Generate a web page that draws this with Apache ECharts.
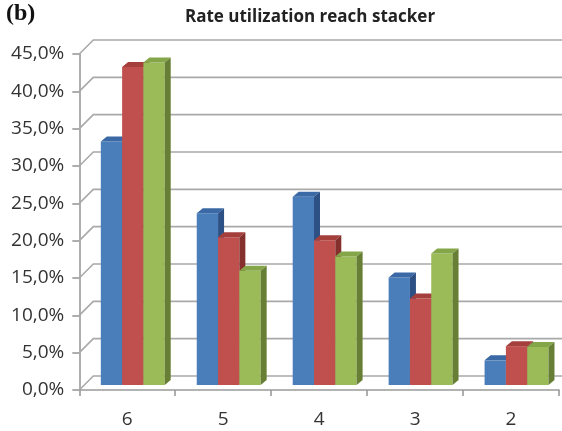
<!DOCTYPE html>
<html>
<head>
<meta charset="utf-8">
<script src="https://cdn.jsdelivr.net/npm/echarts@6/dist/echarts.min.js"></script>
<style>
  html, body { margin: 0; padding: 0; background: #fff; }
  #chart { width: 562px; height: 431px; }
</style>
</head>
<body>
<div id="chart"></div>
<script>
// Number of reach stackers (category axis)
const categories = ['6', '5', '4', '3', '2'];
// Utilization rate (%) for each scenario
const seriesBlue  = [32.6, 23.0, 25.2, 14.4, 3.3];
const seriesRed   = [42.6, 19.8, 19.4, 11.6, 5.2];
const seriesGreen = [43.2, 15.3, 17.2, 17.6, 5.1];
// Value-axis ticks
const yTicks = [0, 5, 10, 15, 20, 25, 30, 35, 40, 45];

// Pseudo-3D depth of the back wall and of the bars
const WALL_DX = 14, WALL_DY = -14;
const BAR_OFF_X = 5.5, BAR_OFF_Y = -5;
const BAR_DX = 6, BAR_DY = -5;
const BAR_RATIO = 0.222;

const palettes = [
  { front: '#4a7ebb', top: '#3b69a5', side: '#2d5185' },
  { front: '#c0504d', top: '#a43f3c', side: '#86302e' },
  { front: '#9bbb59', top: '#84a649', side: '#677f35' }
];

const chart = echarts.init(document.getElementById('chart'), null, { renderer: 'canvas' });

function fmtPct(v) {
  return v.toFixed(1).replace('.', ',') + '%';
}

// Back wall gridlines: front axis point -> diagonal -> horizontal on the back wall
function renderGrid(params, api) {
  const cs = params.coordSys;
  const v = api.value(0);
  const y = api.coord([0, v])[1];
  const x0 = cs.x;
  const pts = [
    [x0, y],
    [x0 + WALL_DX, y + WALL_DY],
    [cs.x + cs.width + 40, y + WALL_DY]
  ];
  return {
    type: 'polyline',
    shape: { points: pts },
    style: { stroke: '#a9a9a9', lineWidth: 1.6, fill: null },
    silent: true
  };
}

function makeBarRenderer(idx) {
  const pal = palettes[idx];
  return function (params, api) {
    const cat = api.value(0);
    const val = api.value(1);
    const base = api.coord([cat, 0]);
    const topPt = api.coord([cat, val]);
    const band = api.size([1, 0])[0];
    const bw = band * BAR_RATIO;
    const x = base[0] - 1.5 * bw + idx * bw + BAR_OFF_X;
    const yb = base[1] + BAR_OFF_Y;
    const yt = topPt[1] + BAR_OFF_Y;
    return {
      type: 'group',
      children: [
        {
          type: 'rect',
          shape: { x: x, y: yt, width: bw, height: yb - yt },
          style: { fill: pal.front }
        },
        {
          type: 'polygon',
          shape: { points: [[x, yt], [x + BAR_DX, yt + BAR_DY], [x + bw + BAR_DX, yt + BAR_DY], [x + bw, yt]] },
          style: { fill: pal.top }
        },
        {
          type: 'polygon',
          shape: { points: [[x + bw, yt], [x + bw + BAR_DX, yt + BAR_DY], [x + bw + BAR_DX, yb + BAR_DY], [x + bw, yb]] },
          style: { fill: pal.side }
        }
      ]
    };
  };
}

const barSeries = [seriesBlue, seriesRed, seriesGreen].map(function (vals, i) {
  return {
    type: 'custom',
    name: 'S' + (i + 1),
    renderItem: makeBarRenderer(i),
    data: vals.map(function (v, k) { return [k, v]; }),
    encode: { x: 0, y: 1 },
    z: 3 + i
  };
});

const option = {
  backgroundColor: '#ffffff',
  animation: false,
  title: {
    text: 'Rate utilization reach stacker',
    left: 305,
    top: 4,
    textAlign: 'center',
    textStyle: {
      fontFamily: 'Open Sans',
      fontWeight: 'bold',
      fontSize: 17,
      color: '#222'
    }
  },
  graphic: [
    {
      type: 'text',
      left: 6,
      top: 2,
      style: {
        text: '(b)',
        font: 'bold 24px "Liberation Serif"',
        fill: '#111'
      }
    }
  ],
  grid: {
    left: 79.3,
    right: 3,
    top: 54,
    bottom: 41
  },
  xAxis: {
    type: 'category',
    data: categories,
    boundaryGap: true,
    axisLine: { show: true, lineStyle: { color: '#9a9a9a', width: 1.6 } },
    axisTick: { show: true, length: 6, lineStyle: { color: '#9a9a9a', width: 1.6 } },
    axisLabel: {
      margin: 20,
      fontFamily: 'Open Sans',
      fontSize: 19,
      color: '#333'
    },
    splitLine: { show: false }
  },
  yAxis: {
    type: 'value',
    min: 0,
    max: 45,
    interval: 5,
    axisLine: { show: true, lineStyle: { color: '#9a9a9a', width: 1.6 } },
    axisTick: { show: true, length: 7, lineStyle: { color: '#9a9a9a', width: 1.6 } },
    axisLabel: {
      margin: 15,
      fontFamily: 'Open Sans',
      fontSize: 19,
      color: '#333',
      formatter: fmtPct
    },
    splitLine: { show: false }
  },
  series: [
    {
      type: 'custom',
      name: 'grid',
      renderItem: renderGrid,
      data: yTicks.map(function (v) { return [v]; }),
      encode: { y: 0 },
      z: 1,
      silent: true
    }
  ].concat(barSeries)
};

chart.setOption(option);
</script>
</body>
</html>
